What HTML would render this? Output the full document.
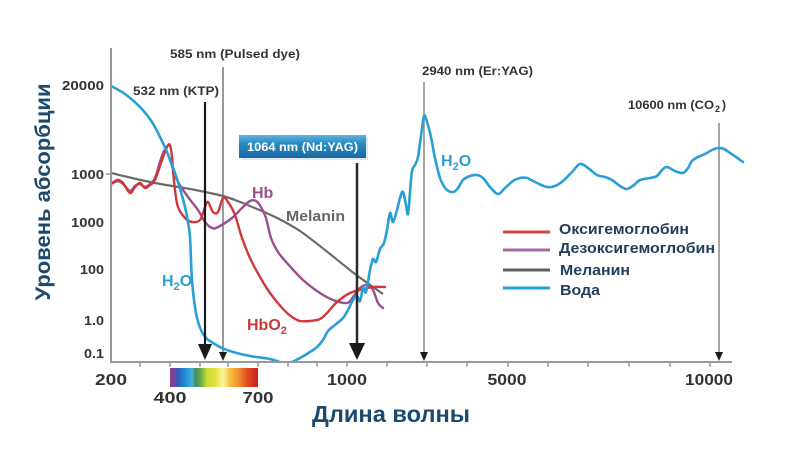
<!DOCTYPE html>
<html><head><meta charset="utf-8"><style>
html,body{margin:0;padding:0;background:#fff;}
svg{display:block;}
text{font-family:"Liberation Sans",sans-serif;font-weight:bold;}
</style></head><body>
<svg id="chart" width="792" height="456" viewBox="0 0 792 456" xmlns="http://www.w3.org/2000/svg">
<defs>
<linearGradient id="spec" x1="0" x2="1" y1="0" y2="0">
<stop offset="0" stop-color="#8a3d8c"/>
<stop offset="0.06" stop-color="#6a4aa0"/>
<stop offset="0.09" stop-color="#2a62b8"/>
<stop offset="0.18" stop-color="#1e8fd6"/>
<stop offset="0.25" stop-color="#4ab0d8"/>
<stop offset="0.29" stop-color="#3f8f5a"/>
<stop offset="0.35" stop-color="#6aa850"/>
<stop offset="0.42" stop-color="#c8dc30"/>
<stop offset="0.52" stop-color="#e6e040"/>
<stop offset="0.60" stop-color="#fbf6a0"/>
<stop offset="0.68" stop-color="#f7c040"/>
<stop offset="0.78" stop-color="#f0902a"/>
<stop offset="0.88" stop-color="#e04a22"/>
<stop offset="1" stop-color="#c81e1e"/>
</linearGradient>
<linearGradient id="box" x1="0" x2="0" y1="0" y2="1">
<stop offset="0" stop-color="#5cb4e0"/>
<stop offset="0.35" stop-color="#2a8cc6"/>
<stop offset="1" stop-color="#1a68a0"/>
</linearGradient>
<clipPath id="plot"><rect x="111" y="40" width="640" height="321"/></clipPath>
</defs>

<!-- axis title Y -->
<text transform="translate(50,192) rotate(-90)" text-anchor="middle" font-size="21" fill="#1b4a6e" textLength="217" lengthAdjust="spacingAndGlyphs">Уровень абсорбции</text>

<!-- Y tick labels -->
<g font-size="12.5" fill="#333" text-anchor="end">
<text x="104" y="90" textLength="42" lengthAdjust="spacingAndGlyphs">20000</text>
<text x="104" y="179" textLength="33" lengthAdjust="spacingAndGlyphs">1000</text>
<text x="104" y="227" textLength="33" lengthAdjust="spacingAndGlyphs">1000</text>
<text x="104" y="274" textLength="24" lengthAdjust="spacingAndGlyphs">100</text>
<text x="104" y="325" textLength="20" lengthAdjust="spacingAndGlyphs">1.0</text>
<text x="104" y="358" textLength="20" lengthAdjust="spacingAndGlyphs">0.1</text>
</g>
<line x1="106" y1="174" x2="111" y2="174" stroke="#999" stroke-width="1.5"/>

<!-- vertical laser lines -->
<line x1="223" y1="67" x2="223" y2="356" stroke="#999" stroke-width="2"/>
<line x1="424" y1="82" x2="424" y2="354" stroke="#888" stroke-width="1.5"/>
<line x1="719" y1="123" x2="719" y2="354" stroke="#888" stroke-width="1.5"/>

<!-- Melanin -->
<polyline class="sm" clip-path="url(#plot)" fill="none" stroke="#6a6a6a" stroke-width="2.2" stroke-linejoin="round" points="111,173 150,182 190,189 205,192 223,196 235,200 250,206 275,217 300,231 330,254 355,274 383,294"/>

<!-- Hb (purple) -->
<polyline class="sm" clip-path="url(#plot)" fill="none" stroke="#9b4f8e" stroke-width="2.4" stroke-linejoin="round" stroke-linecap="round" points="111,184 118,181 123,184 130,191 135,186 140,184 145,187 150,184 155,178 160,162 165,150 170,160 177,180 188,197 198,210 205,222 212,228 218,227 232,218 242,208 250,201 256,201 261,207 266,218 271,238 278,252 287,263 303,280 320,293 333,300 347,303 353,297 360,288 367,285 373,290 378,303 383,308"/>

<!-- HbO2 (red) -->
<polyline class="sm" clip-path="url(#plot)" fill="none" stroke="#d0373a" stroke-width="2.4" stroke-linejoin="round" stroke-linecap="round" points="112,183 118,180 123,183 130,193 135,187 140,183 145,188 150,185 155,180 162,160 167,147 170,145 172,157 173,170 175,190 178,207 185,218 192,222 200,220 205,207 208,202 213,212 218,212 223,198 228,202 235,215 242,238 250,258 260,277 270,293 283,309 292,317 300,321 310,321 320,319 327,313 337,302 350,293 363,289 373,287 385,287"/>

<!-- Water (blue) -->
<g clip-path="url(#plot)" fill="none" stroke="#2a9fd6" stroke-width="2.6" stroke-linejoin="round" stroke-linecap="round">
<polyline class="sm" points="111,86 125,94 140,107 152,122 160,137 167,152 175,173 181,192 185,207 188,222 190,237 191,260 192,280 194,300 197,318 201,330 206,338 213,343 222,348 233,352 250,356 270,359 285,364"/>
<polyline class="sm" points="288,364 300,358 310,352 317,347 323,340 328,331 335,325 343,318 348,310 353,300 357,296 360,301 363,288 366,292 370,270 373,259 376,262 380,249 384,243 387,230 390,213 393,222 397,210 400,198 403,192 406,205 408,214 410,192 412,171 415,165 418,157 421,136 424,116 427,122 431,137 435,158 440,178 446,189 453,192 458,188 463,180 470,176 477,175 483,178 490,187 498,194 505,188 513,181 520,178 527,178 537,183 547,187 555,186 563,181 572,172 580,164 588,168 597,175 605,177 612,180 620,186 627,189 634,185 640,180 650,178 657,176 662,170 667,167 675,171 683,173 688,168 692,161 698,157 705,154 712,150 718,148 724,149 730,153 736,157 743,162"/>
</g>

<!-- black arrows -->
<line x1="205" y1="102" x2="205" y2="346" stroke="#1a1a1a" stroke-width="2.2"/>
<polygon points="198,344 212,344 205,360" fill="#1a1a1a"/>
<line x1="357" y1="163" x2="357" y2="346" stroke="#2a2a2a" stroke-width="2.5"/>
<polygon points="349,343 365,343 357,360" fill="#1a1a1a"/>
<polygon points="219,352 227,352 223,361" fill="#1a1a1a"/>
<polygon points="420,352 428,352 424,361" fill="#1a1a1a"/>
<polygon points="715,352 723,352 719,361" fill="#1a1a1a"/>

<!-- axes -->
<line x1="111" y1="48" x2="111" y2="363" stroke="#999" stroke-width="2"/>
<line x1="110" y1="362" x2="732" y2="362" stroke="#999" stroke-width="2"/>
<g stroke="#999" stroke-width="1.5">
<line x1="140" y1="362" x2="140" y2="367"/>
<line x1="170" y1="362" x2="170" y2="367"/>
<line x1="200" y1="362" x2="200" y2="367"/>
<line x1="228" y1="362" x2="228" y2="367"/>
<line x1="258" y1="362" x2="258" y2="367"/>
<line x1="288" y1="362" x2="288" y2="367"/>
<line x1="317" y1="362" x2="317" y2="367"/>
<line x1="347" y1="362" x2="347" y2="367"/>
<line x1="387" y1="362" x2="387" y2="367"/>
<line x1="427" y1="362" x2="427" y2="367"/>
<line x1="467" y1="362" x2="467" y2="367"/>
<line x1="508" y1="362" x2="508" y2="367"/>
<line x1="548" y1="362" x2="548" y2="367"/>
<line x1="588" y1="362" x2="588" y2="367"/>
<line x1="629" y1="362" x2="629" y2="367"/>
<line x1="670" y1="362" x2="670" y2="367"/>
<line x1="710" y1="362" x2="710" y2="367"/>
</g>

<!-- colorbar -->
<rect x="170" y="368" width="88" height="19" fill="url(#spec)"/>

<!-- x tick labels -->
<g font-size="16" fill="#333" text-anchor="middle">
<text x="111" y="385" textLength="32" lengthAdjust="spacingAndGlyphs">200</text>
<text x="347" y="385" textLength="40" lengthAdjust="spacingAndGlyphs">1000</text>
<text x="507" y="385" textLength="39" lengthAdjust="spacingAndGlyphs">5000</text>
<text x="709" y="385" textLength="48" lengthAdjust="spacingAndGlyphs">10000</text>
<text x="170" y="403" textLength="33" lengthAdjust="spacingAndGlyphs">400</text>
<text x="258" y="403" textLength="31" lengthAdjust="spacingAndGlyphs">700</text>
</g>

<!-- x axis title -->
<text x="312" y="422" font-size="23" fill="#1b4a6e" textLength="158" lengthAdjust="spacingAndGlyphs">Длина волны</text>

<!-- laser labels -->
<g font-size="12" fill="#333">
<text x="170" y="58" textLength="130" lengthAdjust="spacingAndGlyphs">585 nm (Pulsed dye)</text>
<text x="133" y="95" textLength="86" lengthAdjust="spacingAndGlyphs">532 nm (KTP)</text>
<text x="422" y="75" textLength="111" lengthAdjust="spacingAndGlyphs">2940 nm (Er:YAG)</text>
<text x="628" y="109" textLength="86" lengthAdjust="spacingAndGlyphs">10600 nm (CO</text>
<text x="715" y="112" font-size="9">2</text>
<text x="722" y="109">)</text>
</g>

<!-- Nd:YAG box -->
<rect x="241" y="137" width="127" height="23" fill="#c8d8e4" opacity="0.6"/>
<rect x="239" y="135" width="127" height="23" fill="url(#box)"/>
<text x="302.5" y="151" font-size="12" fill="#fff" text-anchor="middle" textLength="111" lengthAdjust="spacingAndGlyphs">1064 nm (Nd:YAG)</text>

<!-- curve labels -->
<text x="162" y="286" font-size="16" fill="#2a9fd6">H<tspan font-size="11" dy="4">2</tspan><tspan dy="-4">O</tspan></text>
<text x="441" y="166" font-size="16" fill="#2a9fd6">H<tspan font-size="11" dy="4">2</tspan><tspan dy="-4">O</tspan></text>
<text x="247" y="330" font-size="16" fill="#c8383a">HbO<tspan font-size="11" dy="4">2</tspan></text>
<text x="252" y="198" font-size="16" fill="#9b4f8e">Hb</text>
<text x="286" y="221" font-size="15" fill="#666" textLength="59" lengthAdjust="spacingAndGlyphs">Melanin</text>

<!-- legend -->
<g stroke-width="3">
<line x1="503" y1="232" x2="550" y2="232" stroke="#d04545"/>
<line x1="503" y1="250" x2="550" y2="250" stroke="#a86aa4"/>
<line x1="503" y1="270" x2="550" y2="270" stroke="#606060"/>
<line x1="503" y1="288" x2="550" y2="288" stroke="#2a9fd6"/>
</g>
<g font-size="15" fill="#1f3d5c">
<text x="559" y="234" textLength="130" lengthAdjust="spacingAndGlyphs">Оксигемоглобин</text>
<text x="559" y="253" textLength="156" lengthAdjust="spacingAndGlyphs">Дезоксигемоглобин</text>
<text x="560" y="275" textLength="70" lengthAdjust="spacingAndGlyphs">Меланин</text>
<text x="560" y="295" textLength="40" lengthAdjust="spacingAndGlyphs">Вода</text>
</g>
</svg>
<script>
(function(){
  var NS="http://www.w3.org/2000/svg";
  var pls=document.querySelectorAll("polyline.sm");
  for(var i=0;i<pls.length;i++){
    var pl=pls[i];
    var raw=pl.getAttribute("points").trim().split(/\s+/);
    var p=raw.map(function(s){var a=s.split(",");return [parseFloat(a[0]),parseFloat(a[1])];});
    if(p.length<3)continue;
    var d="M"+p[0][0]+","+p[0][1];
    for(var k=0;k<p.length-1;k++){
      var p0=p[k>0?k-1:0],p1=p[k],p2=p[k+1],p3=p[k+2<p.length?k+2:p.length-1];
      var t=1/6;
      var c1x=p1[0]+(p2[0]-p0[0])*t,c1y=p1[1]+(p2[1]-p0[1])*t;
      var c2x=p2[0]-(p3[0]-p1[0])*t,c2y=p2[1]-(p3[1]-p1[1])*t;
      d+=" C"+c1x.toFixed(2)+","+c1y.toFixed(2)+" "+c2x.toFixed(2)+","+c2y.toFixed(2)+" "+p2[0]+","+p2[1];
    }
    var path=document.createElementNS(NS,"path");
    for(var j=0;j<pl.attributes.length;j++){
      var at=pl.attributes[j];
      if(at.name!=="points"&&at.name!=="class")path.setAttribute(at.name,at.value);
    }
    path.setAttribute("d",d);
    pl.parentNode.replaceChild(path,pl);
  }
})();
</script>
</body></html>
